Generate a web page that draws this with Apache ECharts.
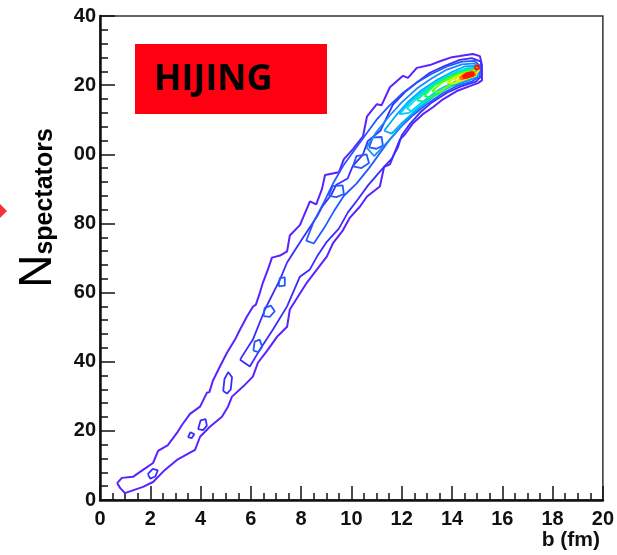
<!DOCTYPE html>
<html>
<head>
<meta charset="utf-8">
<script src="https://cdn.jsdelivr.net/npm/echarts@6/dist/echarts.min.js"></script>
<style>
  html, body { margin: 0; padding: 0; background: #fff; }
  #chart { width: 617px; height: 555px; }
</style>
</head>
<body>
<div id="chart"></div>
<script>
// axis ticks / labels (the leading "1" of 100/120/140 is hidden in the original)
var xTicks = [0, 2, 4, 6, 8, 10, 12, 14, 16, 18, 20];
var yTickLabels = ['0', '20', '40', '60', '80', '00', '20', '40'];

// contour lines, [b (fm), N spectators]
var contourOuter = [
  [0.68, 4.9], [0.87, 6.4], [1.31, 6.7], [1.71, 8.7], [2.11, 10.7], [2.31, 14.2], [2.70, 15.9],
  [3.06, 19.4], [3.26, 21.7], [3.58, 24.9], [3.98, 27.0], [4.25, 31.0], [4.35, 31.2], [4.49, 34.5],
  [4.77, 38.6], [5.05, 42.6], [5.37, 46.4], [5.57, 49.3], [5.84, 53.0], [6.08, 55.9], [6.2, 56.5],
  [6.36, 60.0], [6.48, 62.9], [6.68, 66.7], [6.84, 70.1], [7.16, 70.7], [7.44, 71.9], [7.55, 76.5],
  [7.95, 79.5], [8.35, 86.4], [8.6, 85.5], [8.83, 90.0], [8.95, 94.0], [9.5, 94.8], [9.7, 98.6],
  [10.06, 101.5], [10.46, 105.2], [10.62, 111.0], [11.01, 114.5], [11.2, 114.2],
  [11.53, 119.4], [12.05, 122.7], [12.25, 122.1], [12.6, 125.0], [13.12, 125.8], [13.52, 126.9],
  [14.0, 128.1], [14.31, 128.4], [14.83, 129.0], [15.11, 128.4], [15.19, 125.8], [15.19, 121.4],
  [15.03, 120.6], [14.71, 119.7], [14.19, 118.3], [13.64, 115.9], [13.24, 113.6], [12.84, 111.6],
  [12.45, 109.0], [12.13, 105.8], [11.93, 104.3], [11.53, 97.1], [11.3, 96.4], [11.13, 90.7],
  [10.62, 87.8], [10.34, 84.9], [9.94, 81.7], [9.66, 78.0], [9.26, 74.2], [9.02, 70.4],
  [8.63, 66.7], [8.23, 62.9], [7.87, 58.8], [7.55, 55.1], [7.44, 50.1], [7.04, 47.2], [6.68, 43.5],
  [6.28, 39.7], [6.08, 35.7], [5.69, 32.8], [5.25, 29.9], [5.09, 27.0], [4.85, 24.1], [4.37, 21.2],
  [3.98, 18.3], [3.78, 14.5], [3.06, 11.6], [2.58, 8.7], [2.11, 5.2], [1.71, 3.8], [0.99, 2.0], [0.80, 3.5]
];
var contour2 = [
  [5.57, 40.6], [6.08, 46.4], [6.56, 55.1], [7.16, 63.8], [7.44, 68.7], [7.95, 74.5], [8.63, 82.0],
  [8.85, 85.0], [9.2, 88.3], [9.4, 91.2], [9.85, 93.0], [10.05, 96.6], [10.45, 99.8], [10.65, 103.8],
  [11.15, 106.8], [11.65, 114.4], [12.13, 118.0], [12.64, 121.0], [13.12, 123.6], [13.72, 125.6],
  [14.31, 127.3], [14.79, 127.8], [15.15, 126.8], [15.17, 122.6], [14.95, 121.0], [14.31, 119.5],
  [13.80, 117.8], [13.20, 115.0], [12.72, 112.0], [12.33, 108.8], [12.0, 105.5], [11.85, 102.0],
  [11.61, 98.8], [11.13, 95.0], [10.66, 91.0], [10.26, 87.0], [9.86, 83.2], [9.5, 78.5],
  [9.0, 74.5], [8.63, 70.4], [8.35, 66.7], [7.95, 64.6], [7.44, 56.0], [6.88, 49.3], [6.36, 43.5],
  [5.96, 38.6]
];
var contour2Islands = [
  [[1.9, 7.5], [2.1, 9.0], [2.3, 8.6], [2.2, 6.8], [2.0, 6.2]],
  [[3.5, 18.2], [3.6, 19.6], [3.75, 19.0], [3.65, 17.9]],
  [[3.9, 20.5], [4.0, 23.0], [4.2, 23.4], [4.25, 21.5], [4.1, 20.2]],
  [[4.9, 31.5], [4.95, 35.0], [5.1, 37.0], [5.25, 35.5], [5.2, 32.0], [5.05, 30.8]]
];
var contour3 = [
  [8.2, 75.0], [8.5, 80.5], [8.9, 86.0], [9.3, 92.0], [9.7, 97.0], [10.1, 101.0], [10.6, 106.0],
  [11.0, 110.0], [11.5, 114.0], [12.0, 117.5], [12.6, 120.8], [13.2, 123.3], [13.8, 125.4],
  [14.4, 126.8], [14.9, 127.0], [15.12, 125.5], [15.1, 122.5], [14.8, 121.1], [14.2, 119.8],
  [13.6, 117.5], [13.0, 114.5], [12.4, 111.0], [11.9, 107.5], [11.5, 104.0], [11.1, 100.0],
  [10.7, 96.0], [10.2, 91.5], [9.7, 88.0], [9.3, 83.5], [8.9, 78.5], [8.5, 74.2]
];
var contour3Islands = [
  [[10.06, 96.5], [10.2, 99.5], [10.6, 100.0], [10.7, 97.5], [10.4, 96.0]],
  [[10.7, 102.0], [10.85, 104.9], [11.2, 105.0], [11.25, 102.5], [11.0, 101.6]],
  [[9.1, 88.0], [9.25, 90.8], [9.65, 91.0], [9.7, 88.5], [9.4, 87.6]],
  [[6.5, 53.2], [6.55, 55.6], [6.8, 56.2], [6.95, 54.6], [6.75, 53.0]],
  [[7.1, 61.8], [7.15, 64.2], [7.35, 64.4], [7.35, 62.0]],
  [[6.1, 43.2], [6.15, 45.8], [6.35, 46.4], [6.45, 44.3], [6.3, 42.8]]
];
var contour4 = [
  [10.6, 102.0], [11.0, 106.5], [11.5, 111.0], [12.0, 115.0], [12.6, 119.0], [13.2, 122.0],
  [13.8, 124.5], [14.4, 126.0], [14.9, 126.3], [15.08, 124.5], [15.0, 122.3], [14.6, 121.2],
  [14.0, 119.8], [13.4, 117.4], [12.9, 114.6], [12.3, 110.8], [11.8, 106.5], [11.3, 102.5], [10.9, 99.5]
];
var contour5 = [
  [11.3, 106.8], [11.8, 111.5], [12.3, 115.5], [12.8, 118.6], [13.4, 121.5], [14.0, 123.8],
  [14.5, 125.4], [14.95, 125.6], [15.03, 123.8], [14.85, 122.2], [14.3, 121.0], [13.7, 119.0],
  [13.1, 116.2], [12.6, 113.0], [12.0, 109.0], [11.6, 106.0]
];
var contour6 = [
  [11.9, 111.6], [12.4, 115.6], [12.9, 118.6], [13.5, 121.4], [14.1, 123.5], [14.6, 124.9],
  [14.97, 124.9], [14.98, 123.3], [14.7, 122.3], [14.1, 121.0], [13.5, 118.8], [12.9, 115.6], [12.3, 112.0]
];
var contour7 = [
  [12.2, 113.3], [12.7, 117.0], [13.2, 120.0], [13.8, 122.6], [14.4, 124.4], [14.9, 125.0],
  [15.0, 123.2], [14.7, 122.0], [14.1, 120.4], [13.5, 118.0], [12.9, 115.0], [12.4, 112.4]
];
var contour8 = [
  [12.6, 115.6], [13.1, 119.0], [13.7, 121.8], [14.3, 123.8], [14.85, 124.6], [14.97, 123.3],
  [14.6, 122.0], [14.0, 120.3], [13.4, 117.6], [12.9, 115.2]
];
var contour9 = [
  [12.9, 117.0], [13.3, 120.0], [13.9, 122.3], [14.5, 124.0], [14.9, 124.3], [14.93, 123.0],
  [14.5, 121.8], [13.9, 119.8], [13.4, 117.3], [13.1, 116.4]
];
var contour10 = [
  [13.2, 118.2], [13.6, 120.8], [14.1, 122.6], [14.6, 123.9], [14.9, 123.9], [14.9, 122.8],
  [14.4, 121.6], [13.9, 120.0], [13.5, 118.0]
];
var contour11 = [[13.8, 120.6], [14.2, 122.6], [14.6, 123.6], [14.9, 123.7], [14.9, 122.7], [14.5, 121.7], [14.1, 120.6]];
var contour12 = [
  [14.1, 121.6], [14.4, 123.0], [14.8, 123.9], [15.0, 125.0], [15.07, 124.3], [14.9, 122.7],
  [14.5, 121.8], [14.2, 121.2]
];
var contour13 = [[14.3, 122.0], [14.5, 123.3], [14.85, 123.9], [14.92, 123.0], [14.6, 122.2], [14.4, 121.8]];
var contour14 = [[14.42, 122.3], [14.6, 123.3], [14.82, 123.6], [14.85, 122.9], [14.6, 122.3]];
var contour14b = [[14.9, 124.7], [14.95, 125.6], [15.05, 125.7], [15.07, 124.9], [14.97, 124.5]];

var chart = echarts.init(document.getElementById('chart'));

function closed(pts) { return pts.concat([pts[0]]); }
var series = [];
function addContour(pts, color, width) {
  series.push({
    type: 'line', data: closed(pts), showSymbol: false, smooth: false,
    lineStyle: { color: color, width: width }, silent: true, animation: false
  });
}
addContour(contourOuter, '#5a22ff', 2);
addContour(contour2, '#3a2cff', 1.8);
contour2Islands.forEach(function (p) { addContour(p, '#3a2cff', 1.8); });
addContour(contour3, '#2458ff', 1.8);
contour3Islands.forEach(function (p) { addContour(p, '#2458ff', 1.8); });
addContour(contour4, '#168cff', 1.8);
addContour(contour5, '#00a8ff', 1.8);
addContour(contour6, '#00c8ff', 1.8);
addContour(contour7, '#00e0e0', 1.8);
addContour(contour8, '#00f0a0', 1.8);
addContour(contour9, '#10ff50', 2);
addContour(contour10, '#60ff10', 2);
addContour(contour11, '#c0ff00', 2);
addContour(contour12, '#ffe000', 2);
addContour(contour13, '#ff7000', 2.2);
addContour(contour14, '#ff1400', 3);
addContour(contour14b, '#ff1400', 2);

var labelFont = { color: '#111', fontWeight: 'bold', fontSize: 20, fontFamily: 'Liberation Sans' };

chart.setOption({
  animation: false,
  grid: { left: 100, right: 13, top: 16, bottom: 55, show: true, borderColor: '#333', borderWidth: 1.5 },
  xAxis: {
    type: 'value', min: xTicks[0], max: xTicks[xTicks.length - 1], interval: 2,
    axisLine: { lineStyle: { color: '#111', width: 2.5 } },
    axisTick: { inside: true, length: 14, lineStyle: { color: '#111', width: 1.5 } },
    minorTick: { show: true, splitNumber: 4, length: 7, lineStyle: { color: '#111', width: 1.5 } },
    splitLine: { show: false },
    axisLabel: Object.assign({ margin: 9 }, labelFont)
  },
  yAxis: {
    type: 'value', min: 0, max: 140, interval: 20,
    axisLine: { lineStyle: { color: '#111', width: 2.5 } },
    axisTick: { inside: true, length: 15, lineStyle: { color: '#111', width: 1.5 } },
    minorTick: { show: true, splitNumber: 5, length: 8, lineStyle: { color: '#111', width: 1.5 } },
    splitLine: { show: false },
    axisLabel: Object.assign({
      margin: 4,
      formatter: function (v) { return yTickLabels[Math.round(v / 20)]; }
    }, labelFont)
  },
  graphic: [
    { type: 'polygon', shape: { points: [[-17, 211], [-5, 199], [7, 211], [-5, 223]] },
      style: { fill: '#f4323c' } },
    { type: 'rect', shape: { x: 135, y: 44, width: 192, height: 70 }, style: { fill: '#ff0010' } },
    { type: 'text', x: 154, y: 80,
      style: { text: 'HIJING', fill: '#000', font: 'bold 36px "Open Sans"', textVerticalAlign: 'middle' } },
    { type: 'text', x: 600, y: 540,
      style: { text: 'b (fm)', fill: '#111', font: 'bold 21px "Liberation Sans"', textAlign: 'right', textVerticalAlign: 'middle' } },
    { type: 'text', x: 38, y: 208, rotation: Math.PI / 2,
      style: {
        text: '{n|N}{s|spectators}', textAlign: 'center', textVerticalAlign: 'middle',
        rich: {
          n: { fontSize: 46, fontFamily: 'Liberation Sans', fill: '#000', verticalAlign: 'bottom' },
          s: { fontSize: 25, fontWeight: 'bold', fontFamily: 'Liberation Sans', fill: '#000', padding: [14, 0, 0, 0] }
        }
      } }
  ],
  series: series
});
</script>
</body>
</html>
